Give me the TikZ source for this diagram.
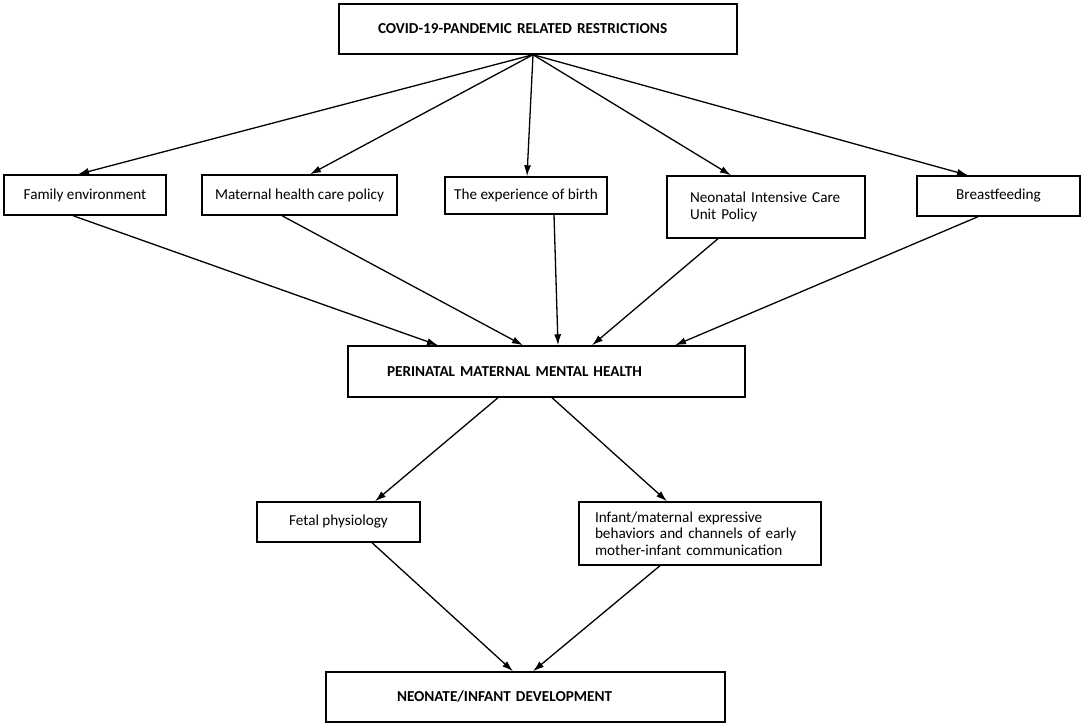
\documentclass[tikz,border=0pt]{standalone}
\usepackage{fontspec}
\setmainfont{Carlito}
\usetikzlibrary{arrows.meta}

\begin{document}
\begin{tikzpicture}[x=1pt,y=-1pt]
			\tikzset{every node/.style={draw,line width=1.4pt,rectangle,inner sep=0pt,font=\fontsize{15.2}{16.5}\selectfont}}
			\tikzset{heading/.style={font=\fontsize{15.2}{16.5}\selectfont\bfseries,align=left}}
			\tikzset{link/.style={line width=1.3pt,-{Latex[length=11pt,width=7pt]}}}
			\useasboundingbox (0,0) rectangle (1084,726);
			% top
			\node[heading,minimum width=398,minimum height=50,text width=320] (covid) at (538,29) {COVID-19-PANDEMIC RELATED RESTRICTIONS};
			% second row
			\node[minimum width=162,minimum height=40] (family) at (85,195) {Family environment};
			\node[minimum width=195,minimum height=40] (maternal) at (299.5,195) {Maternal health care policy};
			\node[minimum width=162,minimum height=37] (birth) at (526,195.5) {The experience of birth};
			\node[minimum width=198,minimum height=62,align=left,text width=152] (nicu) at (766,207) {\mbox{Neonatal Intensive Care}\\Unit Policy};
			\node[minimum width=163,minimum height=40] (breast) at (998.5,196) {Breastfeeding};
			% middle
			\node[heading,minimum width=397,minimum height=51,text width=319] (perinatal) at (546.5,371.5) {PERINATAL MATERNAL MENTAL HEALTH};
			% fourth row
			\node[minimum width=163,minimum height=40] (fetal) at (338.5,522) {Fetal physiology};
			\node[minimum width=242,minimum height=63,align=left,text width=210] (infant) at (700,533.5) {\mbox{Infant/maternal expressive}\\\mbox{behaviors and channels of early}\\\mbox{mother-infant communication}};
			% bottom
			\node[heading,minimum width=399,minimum height=50,text width=257] (neonate) at (525.5,697) {NEONATE/INFANT DEVELOPMENT};

			\draw[link] ([xshift=-5]covid.south) -- ([xshift=-7]family.north);
			\draw[link] ([xshift=-5]covid.south) -- ([xshift=10.5]maternal.north);
			\draw[link] ([xshift=-5]covid.south) -- ([xshift=1]birth.north);
			\draw[link] ([xshift=-5]covid.south) -- ([xshift=-35]nicu.north);
			\draw[link] ([xshift=-5]covid.south) -- ([xshift=-30.5]breast.north);

			\draw[link] ([xshift=-12]family.south) -- ([xshift=-108.5]perinatal.north);
			\draw[link] ([xshift=-17.5]maternal.south) -- ([xshift=-23.5]perinatal.north);
			\draw[link] ([xshift=28]birth.south) -- ([xshift=11.5]perinatal.north);
			\draw[link] ([xshift=-48]nicu.south) -- ([xshift=45.5]perinatal.north);
			\draw[link] ([xshift=-20.5]breast.south) -- ([xshift=128.5]perinatal.north);

			\draw[link] ([xshift=-48.5]perinatal.south) -- ([xshift=36.5]fetal.north);
			\draw[link] ([xshift=5.5]perinatal.south) -- ([xshift=-33]infant.north);

			\draw[link] ([xshift=33.5]fetal.south) -- ([xshift=-12.5]neonate.north);
			\draw[link] ([xshift=-40]infant.south) -- ([xshift=7.5]neonate.north);
		\end{tikzpicture}
\end{document}
